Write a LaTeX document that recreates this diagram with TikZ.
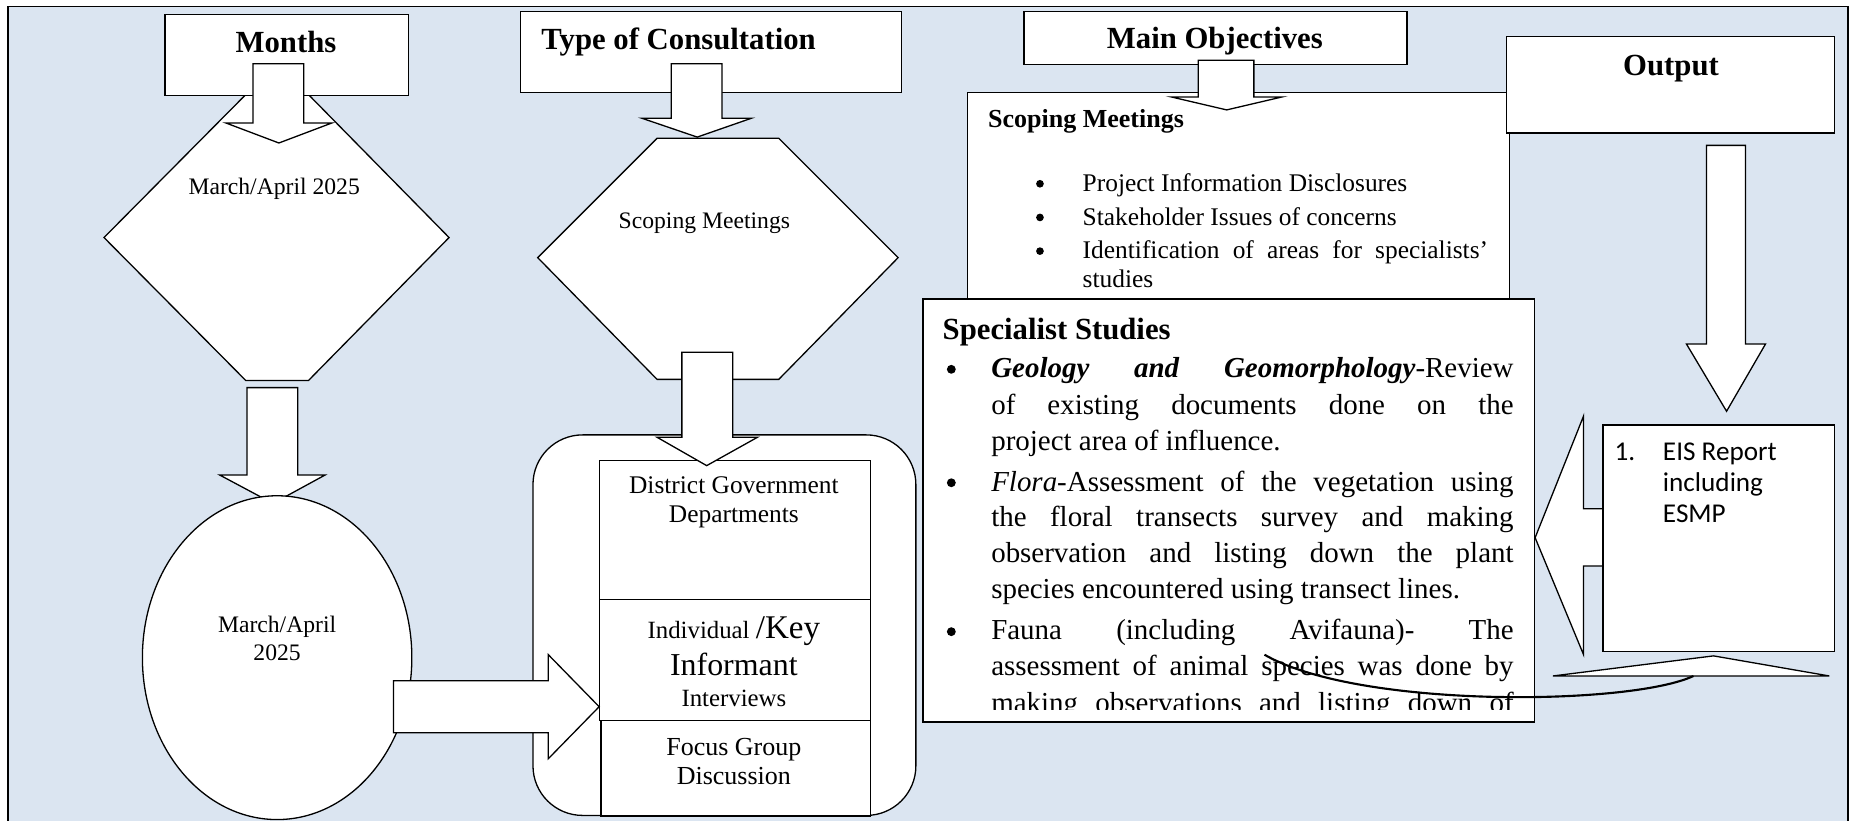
\documentclass[tikz,border=0pt]{standalone}
\usepackage{fontspec}
\setmainfont{Liberation Serif}
\newfontfamily\calibfont{Carlito}
\usetikzlibrary{shapes.geometric}
\definecolor{bgblue}{HTML}{DBE5F1}
\newcommand{\jline}[1]{\makebox[442pt][s]{#1}}
\newcommand{\oline}[1]{\makebox[343pt][s]{#1}}
\begin{document}
\begin{tikzpicture}[x=1pt,y=-1pt]
\tikzset{
 shp/.style={draw=black, fill=white, line width=1.1pt, line join=miter},
 rbox/.style={shp, anchor=north west, inner sep=0pt},
 hd/.style={inner sep=0pt, anchor=base, font=\fontsize{26}{30}\selectfont\bfseries},
 sm/.style={inner sep=0pt, anchor=base, font=\fontsize{20}{24}\selectfont},
 mid/.style={inner sep=0pt, anchor=base, font=\fontsize{21.5}{25}\selectfont},
 sl/.style={inner sep=0pt, anchor=base west, font=\fontsize{24.5}{30}\selectfont},
 ol/.style={inner sep=0pt, anchor=base west, font=\fontsize{21.5}{28}\selectfont},
 eis/.style={inner sep=0pt, anchor=base west, font=\calibfont\fontsize{23}{26}\selectfont},
 dotb/.style={circle, fill=black, inner sep=0pt, minimum size=#1},
}
\useasboundingbox (0,0) rectangle (1568,694);
\fill[white] (0,0) rectangle (1568,694);
\fill[bgblue] (7,5.5) rectangle (1563.5,700);
\draw[line width=1.6pt] (7,700) -- (7,5.5) -- (1563.5,5.5) -- (1563.5,700);

% ---------- Months column ----------
\draw[shp] (208,80) -- (261,80) -- (380,201) -- (261,322) -- (208,322) -- (88,201) -- cycle;
\node[sm] (hexAt) at (232,165) {March/April 2025};
\node[rbox, minimum width=206pt, minimum height=68pt] (months) at (139,12) {};
\node[hd] (monthst) at (242,44.5) {Months};
\draw[shp] (214,54) -- (257,54) -- (257,104) -- (281,104) -- (236,121) -- (191,104) -- (214,104) -- cycle;
\draw[shp] (209,328) -- (252,328) -- (252,402) -- (275,402) -- (231,426) -- (186,402) -- (209,402) -- cycle;
\node[shp, ellipse, minimum width=228pt, minimum height=274pt, inner sep=0pt] (ell) at (234.5,556.5) {};
\node[sm, align=center, anchor=center] (ellt) at (234.5,540) {March/April\\2025};

% ---------- Type of consultation column ----------
\node[rbox, minimum width=322pt, minimum height=68.5pt] (type) at (440,9) {};
\node[hd, anchor=base west] (typet) at (458,41.5) {Type of Consultation};
\draw[shp] (568,54) -- (611,54) -- (611,100) -- (636,100) -- (590,116) -- (543,100) -- (568,100) -- cycle;
\draw[shp] (556,117) -- (659,117) -- (760,218) -- (659,321) -- (556,321) -- (455,218) -- cycle;
\node[sm] (hex2t) at (596,193) {Scoping Meetings};
\draw[shp, rounded corners=42pt] (451,368) rectangle (775,690);
\node[rbox, minimum width=229pt, minimum height=118pt] (b1) at (507,389) {};
\node[rbox, minimum width=229pt, minimum height=102pt] (b2) at (507,507) {};
\node[rbox, minimum width=228pt, minimum height=81pt] (b3) at (508,609) {};
\node[mid, align=center, anchor=center] (b1t) at (621,425) {District Government\\Departments};
\node[inner sep=0pt, anchor=base] (b2a) at (621,540.5) {\fontsize{21}{25}\selectfont Individual \fontsize{28}{30}\selectfont/Key};
\node[inner sep=0pt, anchor=base] (b2b) at (621,572) {\fontsize{27}{30}\selectfont Informant};
\node[inner sep=0pt, anchor=base] (b2c) at (621,598) {\fontsize{21}{25}\selectfont Interviews};
\node[mid, align=center, anchor=center, font=\fontsize{22}{25}\selectfont] (b3t) at (621,644.5) {Focus Group\\Discussion};
\draw[shp] (577,298) -- (620,298) -- (620,370) -- (641,370) -- (598,394) -- (556,370) -- (577,370) -- cycle;
\draw[shp] (333,576) -- (464,576) -- (464,554) -- (507,598) -- (464,642) -- (464,620) -- (333,620) -- cycle;

% ---------- Main objectives column ----------
\node[rbox, minimum width=324pt, minimum height=45pt] (mainobj) at (866,9) {};
\node[hd] (mainobjt) at (1028,41) {Main Objectives};
\node[rbox, minimum width=459pt, minimum height=178pt] (scop) at (818,78) {};
\draw[shp] (1014,51) -- (1061,51) -- (1061,82) -- (1085,82) -- (1038,93) -- (991,82) -- (1014,82) -- cycle;
\node[inner sep=0pt, anchor=base west, font=\fontsize{22}{26}\selectfont\bfseries] (scopt) at (836,107.5) {Scoping Meetings};
\node[dotb=6.5pt] (ob1) at (880,155.5) {};
\node[dotb=6.5pt] (ob2) at (880,184) {};
\node[dotb=6.5pt] (ob3) at (880,212.5) {};
\node[ol] (o1) at (916,162) {Project Information Disclosures};
\node[ol] (o2) at (916,190.5) {Stakeholder Issues of concerns};
\node[ol] (o3) at (916,219) {\oline{Identification of areas for specialists'}};
\node[ol] (o4) at (916,243.5) {studies};

\node[rbox, minimum width=517.5pt, minimum height=358pt] (spec) at (780.5,252.5) {};
\node[inner sep=0pt, anchor=base west, font=\fontsize{26}{30}\selectfont\bfseries] (spect) at (797.5,287) {Specialist Studies};
\node[dotb=7.5pt] (sb1) at (805,312.5) {};
\node[dotb=7.5pt] (sb2) at (805,408.5) {};
\node[dotb=7.5pt] (sb3) at (805,534.5) {};
\begin{scope}
\clip (781,253) rectangle (1297,600);
\node[sl] (s1) at (838.6,319.5) {\jline{\textbf{\textit{Geology and Geomorphology}}-Review}};
\node[sl] (s2) at (838.6,350.5) {\jline{of existing documents done on the}};
\node[sl] (s3) at (838.6,381.5) {project area of influence.};
\node[sl] (s4) at (838.6,415.5) {\jline{\textit{Flora}-Assessment of the vegetation using}};
\node[sl] (s5) at (838.6,445.5) {\jline{the floral transects survey and making}};
\node[sl] (s6) at (838.6,476) {\jline{observation and listing down the plant}};
\node[sl] (s7) at (838.6,506.5) {species encountered using transect lines.};
\node[sl] (s8) at (838.6,541.5) {\jline{Fauna (including Avifauna)- The}};
\node[sl] (s9) at (838.6,571.5) {\jline{assessment of animal species was done by}};
\node[sl] (s10) at (838.6,602.5) {\jline{making observations and listing down of}};
\end{scope}

% ---------- Output column ----------
\node[rbox, minimum width=278pt, minimum height=81.5pt] (output) at (1274,30.5) {};
\node[hd] (outputt) at (1414,64) {Output};
\draw[shp] (1444,123) -- (1477,123) -- (1477,291) -- (1494,291) -- (1461,348) -- (1427,291) -- (1444,291) -- cycle;
\draw[shp] (1358,430.5) -- (1340,430.5) -- (1340,352) -- (1299,455) -- (1340,554) -- (1340,479) -- (1358,479) -- cycle;
\node[rbox, minimum width=196pt, minimum height=192pt] (eisbox) at (1356,359) {};
\node[eis] (eis1) at (1366,390) {1.};
\node[eis] (eis2) at (1407,390) {EIS Report};
\node[eis] (eis3) at (1407,416) {including};
\node[eis] (eis4) at (1407,442) {ESMP};
\draw[shp] (1314,572) -- (1450,555) -- (1548,572) -- cycle;
\coordinate (cs) at (1433,572);
\coordinate (ce) at (1070,554);
\draw[line width=1.8pt] (cs) .. controls (1380,597) and (1150,600) .. (ce);
\end{tikzpicture}
\end{document}
